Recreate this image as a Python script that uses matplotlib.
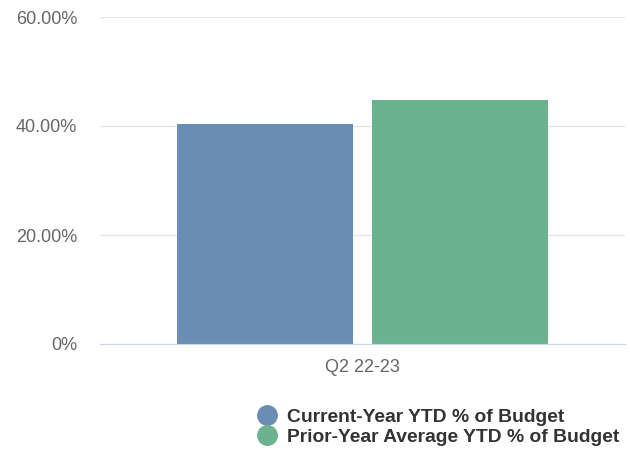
import matplotlib
matplotlib.use("Agg")
import matplotlib.pyplot as plt
from matplotlib.lines import Line2D
import numpy as np

plt.rcParams["font.family"] = ["Liberation Sans", "DejaVu Sans"]

categories = ["Q2 22-23"]
series_names = ["Current-Year YTD % of Budget", "Prior-Year Average YTD % of Budget"]
current_ytd = [40.35]
prior_avg_ytd = [44.75]
colors = ["#6a8db3", "#6bb38e"]
yticks = [0, 20, 40, 60]
ytick_labels = ["0%", "20.00%", "40.00%", "60.00%"]

fig = plt.figure(figsize=(6.3, 4.55), dpi=100)
ax = fig.add_axes([100 / 630, 111 / 455, 525 / 630, 327 / 455])

x = np.arange(len(categories))
width = 0.335
offset = 0.1857
ax.bar(x - offset, current_ytd, width, color=colors[0], zorder=2)
ax.bar(x + offset, prior_avg_ytd, width, color=colors[1], zorder=2)

ax.set_xlim(-0.5, 0.5)
ax.set_ylim(0, 60)
ax.set_yticks(yticks)
ax.set_yticklabels(ytick_labels)
ax.set_xticks(x)
ax.set_xticklabels(categories)
ax.tick_params(axis="both", length=0, labelsize=13, labelcolor="#666666")
ax.tick_params(axis="y", pad=16.5)
ax.tick_params(axis="x", pad=11)
ax.grid(axis="y", color="#e6e6e6", linewidth=1, zorder=0)
for side in ["top", "right", "left"]:
    ax.spines[side].set_visible(False)
ax.spines["bottom"].set_color("#ccd6eb")
ax.spines["bottom"].set_zorder(3)

handles = [Line2D([], [], marker="o", linestyle="none", markersize=14,
                  markerfacecolor=c, markeredgecolor=c) for c in colors]
leg = fig.legend(handles, series_names, loc="upper left",
                 bbox_to_anchor=(240 / 630, 1 - 401 / 455), frameon=False,
                 handletextpad=0.05, labelspacing=0.12, borderaxespad=0,
                 prop={"size": 13.9, "weight": "bold"})
for t in leg.get_texts():
    t.set_color("#333333")

fig.savefig("out.png", dpi=100)
